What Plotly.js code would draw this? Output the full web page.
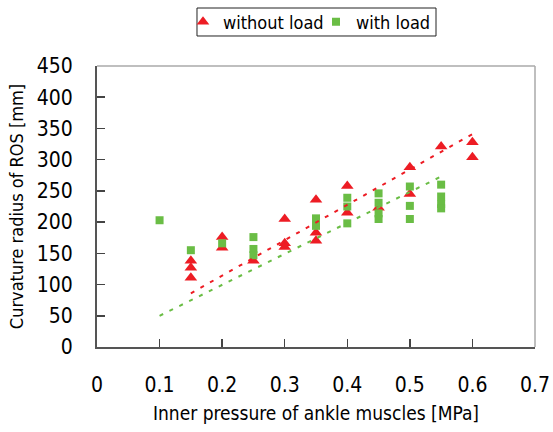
<!DOCTYPE html>
<html>
<head>
<meta charset="utf-8">
<script src="https://cdn.plot.ly/plotly-3.0.1.min.js"></script>
<style>html,body{margin:0;padding:0;background:#fff;}#chart{width:553px;height:432px;}</style>
</head>
<body>
<div id="chart"></div>
<script>
// Without load (red triangles)
const redX = [0.15,0.15,0.15,0.2,0.2,0.25,0.3,0.3,0.3,0.35,0.35,0.35,0.4,0.4,0.45,0.5,0.5,0.55,0.6,0.6];
const redY = [138,127,111,176,159,138,205,166,160,236,183,170,258,215,223,288,245,321,328,304];
// With load (green squares)
const greenX = [0.1,0.15,0.2,0.25,0.25,0.25,0.35,0.35,0.4,0.4,0.4,0.45,0.45,0.45,0.45,0.5,0.5,0.5,0.55,0.55,0.55,0.55];
const greenY = [203,155,166,176,157,147,206,194,239,225,198,246,231,214,205,257,226,205,260,241,229,222];
// Trend lines (endpoints)
const redTrendX = [0.15, 0.6];
const redTrendY = [86, 341];
const greenTrendX = [0.1, 0.55];
const greenTrendY = [50, 273];
const xTickVals = [0,0.1,0.2,0.3,0.4,0.5,0.6,0.7];
const xTickText = ['0','0.1','0.2','0.3','0.4','0.5','0.6','0.7'];

const RED = '#ed1c24';
const GREEN = '#6abd45';
const FONT = '"DejaVu Sans Condensed", "DejaVu Sans", Verdana, sans-serif';

const traces = [
  {x: redX, y: redY, type: 'scatter', mode: 'markers', name: 'without load',
   marker: {symbol: 'triangle-up', size: 11, color: RED}},
  {x: greenX, y: greenY, type: 'scatter', mode: 'markers', name: 'with load',
   marker: {symbol: 'square', size: 8, color: GREEN}},
  {x: redTrendX, y: redTrendY, type: 'scatter', mode: 'lines', showlegend: false,
   line: {color: RED, width: 2, dash: '4px,7px'}},
  {x: greenTrendX, y: greenTrendY, type: 'scatter', mode: 'lines', showlegend: false,
   line: {color: GREEN, width: 2, dash: '4px,7px'}}
];

const layout = {
  width: 553, height: 432,
  margin: {l: 97, r: 18, t: 66, b: 85, autoexpand: false},
  paper_bgcolor: '#fff', plot_bgcolor: '#fff',
  font: {family: FONT, color: '#000'},
  showlegend: true,
  legend: {orientation: 'h', x: 0.5, xanchor: 'center', y: 1.1566, yanchor: 'middle',
    bgcolor: 'rgba(0,0,0,0)', borderwidth: 0, font: {size: 18}, traceorder: 'normal',
    itemwidth: 30, entrywidthmode: 'pixels', entrywidth: 88},
  xaxis: {range: [0, 0.7], showgrid: false, zeroline: false,
    showline: true, linecolor: '#555', linewidth: 2, ticks: 'inside', ticklen: 8,
    tickcolor: '#444', tickwidth: 1.5, tickfont: {size: 21},
    tickvals: xTickVals, ticktext: xTickText,
    ticklabelstandoff: 18,
    title: {text: 'Inner pressure of ankle muscles [MPa]', font: {size: 19}, standoff: 10}},
  yaxis: {range: [0, 450], dtick: 50, showgrid: false, zeroline: false,
    showline: true, linecolor: '#555', linewidth: 2, ticks: 'inside', ticklen: 8,
    tickcolor: '#444', tickwidth: 1.5, tickfont: {size: 21}, ticklabelstandoff: 18,
    title: {text: 'Curvature radius of ROS [mm]', font: {size: 18}, standoff: 8}},
  shapes: [
    {type: 'line', xref: 'paper', yref: 'paper', x0: 0, x1: 1, y0: 1, y1: 1, line: {color: '#aaa', width: 1.5}},
    {type: 'line', xref: 'paper', yref: 'paper', x0: 1, x1: 1, y0: 0, y1: 1, line: {color: '#aaa', width: 1.5}},
    // legend frame
    {type: 'rect', xref: 'paper', yref: 'paper', x0: 0.2283, x1: 0.774, y0: 1.1068, y1: 1.2064,
     line: {color: '#222', width: 1}, fillcolor: 'rgba(0,0,0,0)'}
  ]
};

Plotly.newPlot('chart', traces, layout, {displayModeBar: false, staticPlot: true});
</script>
</body>
</html>
